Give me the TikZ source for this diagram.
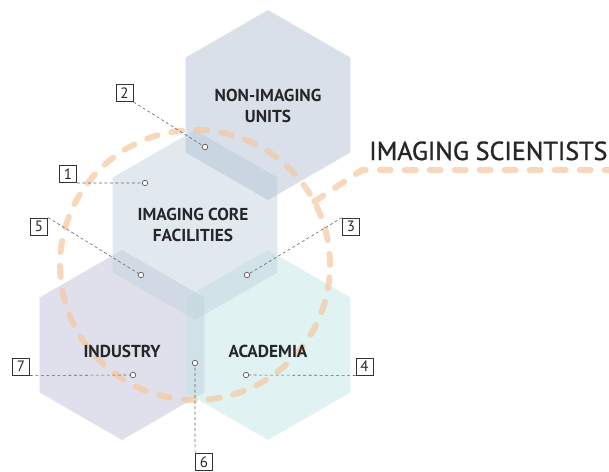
\documentclass[tikz,border=0pt]{standalone}
\usepackage{fontspec}
\setmainfont{PT Sans}
\newfontfamily\titlefont[FakeBold=1.2]{PT Sans}
\usetikzlibrary{shapes.geometric,calc}
\definecolor{nonC}{RGB}{179,193,213}
\definecolor{coreC}{RGB}{195,211,223}
\definecolor{indC}{RGB}{193,193,217}
\definecolor{acaC}{RGB}{193,229,229}
\definecolor{ringC}{RGB}{245,200,160}
\definecolor{txtC}{RGB}{38,38,40}
\tikzset{
  hexnode/.style={regular polygon, regular polygon sides=6, shape border rotate=30,
    minimum size=190pt, inner sep=0pt, draw=none, fill opacity=0.5},
  hexlabel/.style={align=center, text=txtC, font=\bfseries\fontsize{17.3}{21.5}\selectfont, inner sep=0pt},
  ring/.style={draw=ringC, draw opacity=0.7, line width=6pt, line cap=round, dash pattern=on 11pt off 14pt},
  leader/.style={draw=black!60, line width=0.6pt, dash pattern=on 3pt off 2.5pt},
  dot/.style={circle, draw=black!65, fill=white, inner sep=0pt, minimum size=5.5pt, line width=0.7pt},
  numbox/.style={draw=black!80, line width=0.9pt, minimum size=17pt, inner sep=0pt,
    text=black!85, font=\fontsize{15}{15}\selectfont},
}
\begin{document}
\begin{tikzpicture}[x=1pt,y=-1pt]
\useasboundingbox (0,0) rectangle (609,471);
% hexagons
\node[hexnode, fill=indC] (ind) at (122,345) {};
\node[hexnode, fill=acaC] (aca) at (268,345) {};
\node[hexnode, fill=coreC] (core) at (195,225) {};
\node[hexnode, fill=nonC] (non) at (268,105) {};
% ring
\coordinate (cc) at (195,265);
\coordinate (r1) at ($(cc)+(28:135pt)$);
\coordinate (r2) at (362,170);
\coordinate (r3) at (609,170);
\draw[ring] (cc) circle[radius=135pt];
\draw[ring] (r1) -- (r2) -- (r3);
% labels
\node[hexlabel] (tnon) at (268,106) {NON-IMAGING\\UNITS};
\node[hexlabel] (tcore) at (193,225) {IMAGING CORE\\FACILITIES};
\node[hexlabel] (tind) at (122,351) {INDUSTRY};
\node[hexlabel] (taca) at (268,351) {ACADEMIA};
\node[anchor=base west, inner sep=0pt, text=txtC, font=\titlefont\fontsize{26}{26}\selectfont] (title) at (369,160) {IMAGING SCIENTISTS};
% number boxes and dots
\node[numbox] (b1) at (68,174) {1};
\node[numbox] (b2) at (124.5,93) {2};
\node[numbox] (b3) at (351,226.5) {3};
\node[numbox] (b4) at (364.5,366.5) {4};
\node[numbox] (b5) at (39,226.5) {5};
\node[numbox] (b6) at (204,462) {6};
\node[numbox] (b7) at (21,366.5) {7};
\node[dot] (d1) at (145,183) {};
\node[dot] (d2) at (205,147) {};
\node[dot] (d3) at (247,275) {};
\node[dot] (d4) at (246,375) {};
\node[dot] (d5) at (141,275) {};
\node[dot] (d6) at (195,363) {};
\node[dot] (d7) at (133,375) {};
\draw[leader] (b1.south east) -- (d1);
\draw[leader] (b2.south east) -- (d2);
\draw[leader] (b3.north west) -- (d3);
\draw[leader] (b4.south west) -- (d4);
\draw[leader] (b5.north east) -- (d5);
\draw[leader] (b6.north west) -- (d6);
\draw[leader] (b7.south east) -- (d7);
\end{tikzpicture}
\end{document}
